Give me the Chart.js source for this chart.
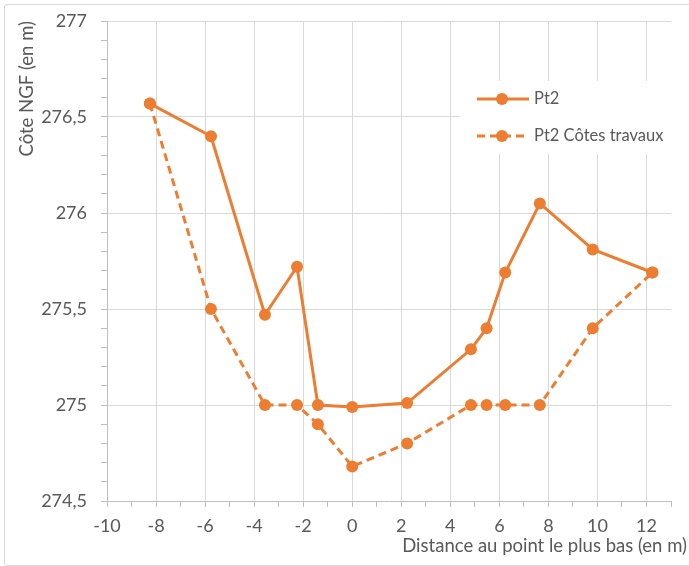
<!DOCTYPE html>
<html lang="fr">
<head>
    <meta charset="UTF-8">
    <title>Profil Pt2</title>
    <script src="https://cdn.jsdelivr.net/npm/chart.js"></script>
    <style>
        body {
            margin: 0;
            background: #fff;
            overflow: hidden;
        }
        .cadre {
            position: absolute;
            left: 4px;
            top: 4px;
            width: 690px;
            height: 560px;
            border: 1px solid #d9d9d9;
            border-radius: 3px;
        }
        #chart {
            display: block;
        }
    </style>
</head>
<body>
    <div class="cadre">
        <canvas id="chart" width="683" height="560"></canvas>
    </div>

    <script>
        // distances (m) et cotes NGF (m)
        const distances = [-8.25, -5.76, -3.56, -2.25, -1.4, 0, 2.24, 4.84, 5.48, 6.24, 7.65, 9.81, 12.24];
        const pt2 = [276.57, 276.40, 275.47, 275.72, 275.0, 274.99, 275.01, 275.29, 275.40, 275.69, 276.05, 275.81, 275.69];
        const pt2Travaux = [276.57, 275.5, 275.0, 275.0, 274.9, 274.68, 274.8, 275.0, 275.0, 275.0, 275.0, 275.4, 275.69];
        const seriesNames = ['Pt2', 'Pt2 Côtes travaux'];
        const xTitle = 'Distance au point le plus bas (en m)';
        const yTitle = 'Côte NGF (en m)';

        const xTicks = [];
        for (let i = -10; i <= 13; i++) xTicks.push(i);
        const yTicks = [];
        for (let i = 2745; i <= 2770; i++) yTicks.push(i / 10);

        const orange = '#ED7D31';
        const gris = '#595959';
        const police = 'Lato, "Open Sans", sans-serif';

        const toPoints = ys => distances.map((x, i) => ({ x: x, y: ys[i] }));

        // legende dans la zone de trace + titre de l'axe X cale a droite (comme Excel)
        const habillage = {
            id: 'habillage',
            afterDraw(chart) {
                const ctx = chart.ctx;
                const area = chart.chartArea;
                ctx.save();

                ctx.fillStyle = gris;
                ctx.font = '18.5px ' + police;
                ctx.textAlign = 'right';
                ctx.textBaseline = 'middle';
                ctx.fillText(xTitle, chart.width - 1, area.bottom + 45);

                const left = area.right - 211;
                const top = area.top + 60;
                ctx.fillStyle = '#fff';
                ctx.fillRect(left, top, 212, 73);
                chart.data.datasets.forEach((ds, i) => {
                    const y = top + 18 + i * 37;
                    ctx.strokeStyle = ds.borderColor;
                    ctx.lineWidth = ds.borderWidth;
                    ctx.setLineDash(ds.borderDash || []);
                    ctx.beginPath();
                    ctx.moveTo(left + 17, y);
                    ctx.lineTo(left + 69, y);
                    ctx.stroke();
                    ctx.setLineDash([]);
                    ctx.fillStyle = ds.pointBackgroundColor;
                    ctx.beginPath();
                    ctx.arc(left + 42, y, ds.pointRadius, 0, Math.PI * 2);
                    ctx.fill();
                    ctx.fillStyle = gris;
                    ctx.font = '16.5px ' + police;
                    ctx.textAlign = 'left';
                    ctx.textBaseline = 'middle';
                    ctx.fillText(ds.label, left + 74, y);
                });
                ctx.restore();
            }
        };

        const ctx = document.getElementById('chart').getContext('2d');
        const chart = new Chart(ctx, {
            type: 'scatter',
            data: {
                datasets: [{
                    label: seriesNames[0],
                    data: toPoints(pt2),
                    showLine: true,
                    borderColor: orange,
                    backgroundColor: orange,
                    pointBackgroundColor: orange,
                    pointBorderColor: orange,
                    borderWidth: 3,
                    pointRadius: 6,
                    pointBorderWidth: 0,
                    tension: 0
                }, {
                    label: seriesNames[1],
                    data: toPoints(pt2Travaux),
                    showLine: true,
                    borderColor: orange,
                    backgroundColor: orange,
                    pointBackgroundColor: orange,
                    pointBorderColor: orange,
                    borderWidth: 3,
                    borderDash: [8, 5],
                    pointRadius: 6,
                    pointBorderWidth: 0,
                    tension: 0
                }]
            },
            options: {
                responsive: false,
                animation: false,
                layout: {
                    padding: { top: 16, right: 17, left: 0, bottom: 0 }
                },
                plugins: {
                    legend: { display: false },
                    tooltip: { enabled: false }
                },
                scales: {
                    x: {
                        type: 'linear',
                        min: -10,
                        max: 13,
                        afterBuildTicks: s => { s.ticks = xTicks.map(v => ({ value: v })); },
                        afterFit: s => { s.height = 64; },
                        border: { color: '#bfbfbf', width: 1 },
                        grid: {
                            color: c => (c.tick && c.tick.value % 2 === 0 && c.tick.value !== -10) ? '#d9d9d9' : 'transparent',
                            tickColor: '#bfbfbf',
                            tickLength: 6,
                            lineWidth: 1
                        },
                        ticks: {
                            color: gris,
                            font: { family: police, size: 18 },
                            padding: 8,
                            maxRotation: 0,
                            autoSkip: false,
                            callback: v => (v % 2 === 0 ? String(v) : '')
                        }
                    },
                    y: {
                        type: 'linear',
                        min: 274.5,
                        max: 277,
                        afterBuildTicks: s => { s.ticks = yTicks.map(v => ({ value: v })); },
                        afterFit: s => {
                            s.width = 102;
                            s.paddingTop = 0;
                            s.paddingBottom = 0;
                        },
                        border: { color: '#bfbfbf', width: 1 },
                        grid: {
                            color: c => (c.tick && Math.round(c.tick.value * 10) % 5 === 0 && c.tick.value > 274.55) ? '#d9d9d9' : 'transparent',
                            tickColor: '#bfbfbf',
                            tickLength: 6,
                            lineWidth: 1
                        },
                        ticks: {
                            color: gris,
                            font: { family: police, size: 18 },
                            padding: 14,
                            autoSkip: false,
                            callback: v => (Math.round(v * 10) % 5 === 0 ? String(Math.round(v * 10) / 10).replace('.', ',') : '')
                        },
                        title: {
                            display: true,
                            text: yTitle,
                            align: 'end',
                            color: gris,
                            font: { family: police, size: 18.5 },
                            padding: { top: 11, bottom: 0 }
                        }
                    }
                }
            },
            plugins: [habillage]
        });
    </script>
</body>
</html>
